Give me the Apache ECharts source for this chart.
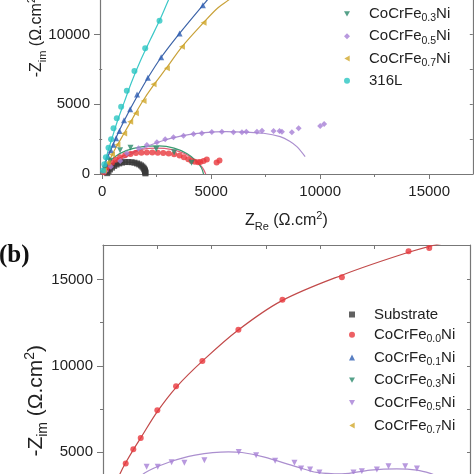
<!DOCTYPE html>
<html><head><meta charset="utf-8">
<script src="https://cdn.jsdelivr.net/npm/echarts@6/dist/echarts.min.js"></script>
<style>html,body{margin:0;padding:0;background:#fff}#c{width:474px;height:474px}</style>
</head><body><div id="c"></div>
<script>
// ---------- panel (a) data : [Z_Re, -Z_im] ----------
const aSubstratePts = [[230,60],[290,200],[360,330],[450,460],[550,580],[660,680],[780,760],[910,820],[1050,855],[1200,862],[1350,845],[1480,810],[1600,755],[1700,690],[1780,615],[1840,535],[1890,450],[1925,370],[1950,290],[1965,215],[1975,150],[1980,95],[1985,45]];
const aSubstrateFit = [[200,0],[300,260],[500,540],[800,760],[1100,860],[1400,840],[1650,720],[1850,520],[1950,300],[1990,0]];
const aFe00Pts = [[80,120],[180,330],[300,560],[450,800],[620,1020],[820,1200],[1050,1340],[1300,1440],[1550,1500],[1800,1530],[2050,1540],[2300,1535],[2550,1520],[2800,1500],[3050,1470],[3300,1410],[3550,1320],[3750,1200],[3950,1060],[4100,930],[4250,870],[4400,850],[4500,860],[4650,930],[4800,1040],[5250,820],[5380,960]];
const aFe00Fit = [[0,0],[300,550],[700,1050],[1200,1480],[1800,1760],[2500,1850],[3200,1750],[3800,1450],[4300,950],[4600,450],[4750,0]];
const aFe01Pts = [[60,350],[150,750],[270,1250],[400,1700],[520,2090],[640,2570],[795,3090],[1000,3850],[1285,4650],[1600,5700],[2096,6900],[2707,8370],[3550,10080],[4620,12100]];
const aFe01Fit = [[0,0],[150,800],[400,1750],[750,3000],[1150,4250],[1600,5550],[2100,6900],[2700,8350],[3550,10080],[4620,12100],[5500,13700],[6300,15000],[7300,16600],[7700,17200]];
const aFe03Pts = [[120,380],[350,950],[820,1700],[1300,1880],[2480,1790],[3300,1560],[4100,800]];
const aFe03Fit = [[0,0],[250,700],[600,1250],[1100,1680],[1800,1950],[2600,2010],[3300,1850],[3900,1450],[4300,950],[4550,450],[4650,0]];
const aFe05Pts = [[150,200],[400,520],[825,935],[1130,1480],[1666,1840],[2050,2080],[2510,2270],[2890,2490],[3270,2630],[3730,2750],[4190,2870],[4570,2920],[5030,3010],[5490,3035],[6020,3000],[6410,2990],[6610,3035],[7100,3035],[7330,3105],[7860,3083],[8135,3083],[8245,3035],[8700,2990],[9010,3277],[10000,3442],[10180,3585]];
const aFe05Fit = [[0,0],[400,550],[1000,1150],[1800,1800],[2700,2350],[3700,2750],[4700,2970],[5700,3040],[6600,3000],[7400,2920],[8165,2675],[8600,2350],[8930,1960],[9310,1240]];
const aFe07Pts = [[80,250],[250,800],[450,1400],[700,2100],[1010,2900],[1284,3750],[1546,4350],[1897,5234],[2356,6430],[2967,7580],[3658,9130],[4650,10850]];
const aFe07Fit = [[0,0],[300,900],[650,1950],[1000,2900],[1400,4000],[1850,5200],[2350,6350],[2950,7600],[3650,9100],[4650,10850],[5300,11900],[5900,12600],[6700,13800],[7600,15200],[8600,16700],[8800,17100]];
const a316LPts = [[40,250],[100,700],[170,1200],[290,1890],[410,2500],[520,3275],[670,3990],[870,4825],[1130,5970],[1480,7385],[1974,9010],[2630,10990]];
const a316LFit = [[0,0],[100,650],[250,1550],[450,2550],[700,3800],[1000,5100],[1350,6600],[1750,8100],[2200,9600],[2630,11000],[3050,12500],[3500,14000],[4000,15500],[4500,17000]];

// ---------- panel (b) data ----------
const bFe00Pts = [[1046,4347],[1396,5173],[1737,5826],[2502,7427],[3364,8814],[4576,10277],[6235,12092],[8263,13826],[11000,15132],[14070,16635],[15023,16831]];
const bFe00Fit = [[600,3200],[800,3800],[1050,4400],[1400,5150],[1750,5850],[2500,7350],[3400,8800],[4600,10300],[6200,12050],[8200,13750],[11000,15250],[14000,16550],[15600,17100]];
const bFe05Pts = [[2010,4150],[2520,4150],[3160,4420],[3747,4381],[4668,4537],[6250,5017],[7051,4826],[7926,4497],[8816,4381],[9124,4057],[9539,4000],[9968,3826],[11535,3826],[11920,3900],[12612,4000],[13147,4190],[13917,4190],[14456,4057]];
const bFe05Fit = [[1300,3000],[1935,3803],[3000,4400],[4240,4826],[5775,5017],[6400,4980],[7390,4728],[8925,4150],[9850,3826],[11000,3740],[12300,3960],[13530,4035],[14456,3960],[15070,3770],[15500,3550]];

// ---------- labels / ticks ----------
const aLegend = ['Substrate','CoCrFe0.0Ni','CoCrFe0.1Ni','CoCrFe0.3Ni','CoCrFe0.5Ni','CoCrFe0.7Ni','316L'];
const bLegend = ['Substrate','CoCrFe0.0Ni','CoCrFe0.1Ni','CoCrFe0.3Ni','CoCrFe0.5Ni','CoCrFe0.7Ni'];
const majorTicks = [0,5000,10000,15000];
const minorTicks = [2500,7500,12500,17500];
const allTicks = [2500,5000,7500,10000,12500,15000,17500];

const F = 'Liberation Sans, Arial, sans-serif';
const C = {sub:'#3a3a3a', fe00:'#e8383d', fe01:'#2f5fb3', fe03:'#2a8a6c', fe05:'#a67fd6', fe07:'#d1a72a', l316:'#2bc6c2'};
const SYM = {square:'rect', circle:'circle', up:'triangle', down:'path://M0,0L10,0L5,9Z', left:'path://M0,5L9,0L9,10Z', diamond:'diamond'};

const rich = {
  f:{fontSize:15, fontFamily:F, color:'#222', lineHeight:20, padding:[0,0,0,14]},
  t:{fontSize:15, fontFamily:F, color:'#222', lineHeight:20},
  s:{fontSize:10.5, fontFamily:F, color:'#222', lineHeight:20, verticalAlign:'bottom'}
};
function legendFmt(name){
  const n = name.slice(2);
  const m = n.match(/^CoCrFe(\d\.\d)Ni$/);
  return m ? '{f|CoCrFe}{s|' + m[1] + '}{t|Ni}' : '{f|' + n + '}';
}
function nameRich(size){
  return {
    n:{fontSize:size, fontFamily:F, color:'#222', lineHeight:size+6},
    s:{fontSize:Math.round(size*0.69), fontFamily:F, color:'#222', lineHeight:size+6, verticalAlign:'bottom'},
    p:{fontSize:Math.round(size*0.69), fontFamily:F, color:'#222', lineHeight:size+6, verticalAlign:'top'}
  };
}

const axisLineStyle = {show:true, onZero:false, lineStyle:{color:'#777', width:1.2}};
const lbl = (vals) => ({show:true, customValues:vals, fontSize:15, fontFamily:F, color:'#222', margin:10, formatter:(v) => String(v)});

function pts(name, data, sym, color, xi, yi){
  return {type:'scatter', name:name, data:data, symbol:sym, symbolSize:6, itemStyle:{color:color}, xAxisIndex:xi, yAxisIndex:yi, z:3};
}
function fit(name, data, color, xi, yi){
  return {type:'line', name:'fit-' + name, data:data, smooth:0.35, symbol:'none', showSymbol:false, lineStyle:{color:color, width:1.2}, xAxisIndex:xi, yAxisIndex:yi, z:2, silent:true};
}

const noLbl = {show:false};
const option = {
  animation:false,
  backgroundColor:'#fff',
  title:{text:'(b)', left:-1, top:243, padding:0, textStyle:{fontFamily:'Liberation Serif, Times New Roman, serif', fontSize:25, fontWeight:'bold', color:'#111'}},
  grid:[
    {left:100, top:-105, width:372.8, height:279, outerBoundsMode:'none'},
    {left:103, top:245, width:367, height:293.5, outerBoundsMode:'none'}
  ],
  xAxis:[
    {type:'value', gridIndex:0, position:'bottom', min:-100, max:17000, axisLine:axisLineStyle,
     axisTick:{show:true, customValues:majorTicks, length:5, lineStyle:{color:'#777'}}, axisLabel:lbl(majorTicks), splitLine:{show:false},
     name:'{n|Z}{s|Re}{n| (Ω.cm}{p|2}{n|)}', nameLocation:'middle', nameGap:36, nameMoveOverlap:false, nameTextStyle:{rich:nameRich(16)}},
    {type:'value', gridIndex:0, position:'bottom', min:-100, max:17000, axisLine:{show:false},
     axisTick:{show:true, customValues:minorTicks, length:3, lineStyle:{color:'#777'}}, axisLabel:noLbl, splitLine:{show:false}},
    {type:'value', gridIndex:0, position:'top', min:-100, max:17000, axisLine:axisLineStyle, axisTick:{show:false}, axisLabel:noLbl, splitLine:{show:false}},
    {type:'value', gridIndex:1, position:'bottom', min:0, max:16900, axisLine:axisLineStyle,
     axisTick:{show:true, customValues:majorTicks, length:5, lineStyle:{color:'#777'}}, axisLabel:lbl(majorTicks), splitLine:{show:false}},
    {type:'value', gridIndex:1, position:'top', min:0, max:16900, axisLine:axisLineStyle,
     axisTick:{show:true, inside:true, customValues:allTicks, length:4, lineStyle:{color:'#777'}}, axisLabel:noLbl, splitLine:{show:false}}
  ],
  yAxis:[
    {type:'value', gridIndex:0, position:'left', min:0, max:20000, axisLine:axisLineStyle,
     axisTick:{show:true, customValues:majorTicks, length:6, lineStyle:{color:'#777'}}, axisLabel:lbl(majorTicks), splitLine:{show:false},
     name:'{n|-Z}{s|im}{n| (Ω.cm}{p|2}{n|)}', nameLocation:'middle', nameGap:52, nameMoveOverlap:false, nameTextStyle:{rich:nameRich(16)}},
    {type:'value', gridIndex:0, position:'left', min:0, max:20000, axisLine:{show:false},
     axisTick:{show:true, customValues:minorTicks, length:3, lineStyle:{color:'#777'}}, axisLabel:noLbl, splitLine:{show:false}},
    {type:'value', gridIndex:0, position:'right', min:0, max:20000, axisLine:axisLineStyle,
     axisTick:{show:true, inside:true, customValues:allTicks, length:3, lineStyle:{color:'#777'}}, axisLabel:noLbl, splitLine:{show:false}},
    {type:'value', gridIndex:1, position:'left', min:0, max:17000, axisLine:axisLineStyle,
     axisTick:{show:true, customValues:majorTicks, length:6, lineStyle:{color:'#777'}}, axisLabel:lbl(majorTicks), splitLine:{show:false},
     name:'{n|-Z}{s|im}{n| (Ω.cm}{p|2}{n|)}', nameLocation:'middle', nameGap:53, nameMoveOverlap:false, nameTextStyle:{rich:nameRich(21), padding:[0,18,0,0]}},
    {type:'value', gridIndex:1, position:'left', min:0, max:17000, axisLine:{show:false},
     axisTick:{show:true, customValues:minorTicks, length:3, lineStyle:{color:'#777'}}, axisLabel:noLbl, splitLine:{show:false}},
    {type:'value', gridIndex:1, position:'right', min:0, max:17000, axisLine:axisLineStyle,
     axisTick:{show:true, inside:true, customValues:allTicks, length:3, lineStyle:{color:'#777'}}, axisLabel:noLbl, splitLine:{show:false}}
  ],
  legend:[
    {data:aLegend.map(n => 'a:' + n), orient:'vertical', left:344, top:-58, padding:0, itemWidth:6, itemHeight:6, itemGap:4.8,
     formatter:legendFmt, textStyle:{rich:rich}, selectedMode:false},
    {data:bLegend.map(n => 'b:' + n), orient:'vertical', left:349, top:307, padding:0, itemWidth:6, itemHeight:6, itemGap:5.2,
     formatter:legendFmt, textStyle:{rich:rich}, selectedMode:false}
  ],
  series:[
    fit('a-sub', aSubstrateFit, '#555', 0, 0),
    fit('a-00', aFe00Fit, '#e0607a', 0, 0),
    fit('a-01', aFe01Fit, '#3d64a8', 0, 0),
    fit('a-03', aFe03Fit, '#3a9a70', 0, 0),
    fit('a-05', aFe05Fit, '#ab8fcf', 0, 0),
    fit('a-07', aFe07Fit, '#c9a23a', 0, 0),
    fit('a-316', a316LFit, '#3cc8c8', 0, 0),
    pts('a:Substrate', aSubstratePts, SYM.square, C.sub, 0, 0),
    pts('a:CoCrFe0.0Ni', aFe00Pts, SYM.circle, C.fe00, 0, 0),
    pts('a:CoCrFe0.1Ni', aFe01Pts, SYM.up, C.fe01, 0, 0),
    pts('a:CoCrFe0.3Ni', aFe03Pts, SYM.down, C.fe03, 0, 0),
    pts('a:CoCrFe0.5Ni', aFe05Pts, SYM.diamond, C.fe05, 0, 0),
    pts('a:CoCrFe0.7Ni', aFe07Pts, SYM.left, C.fe07, 0, 0),
    pts('a:316L', a316LPts, SYM.circle, C.l316, 0, 0),
    fit('b-00', bFe00Fit, '#c24a4a', 3, 3),
    fit('b-05', bFe05Fit, '#ab8fcf', 3, 3),
    pts('b:Substrate', [], SYM.square, C.sub, 3, 3),
    pts('b:CoCrFe0.0Ni', bFe00Pts, SYM.circle, C.fe00, 3, 3),
    pts('b:CoCrFe0.1Ni', [], SYM.up, C.fe01, 3, 3),
    pts('b:CoCrFe0.3Ni', [], SYM.down, C.fe03, 3, 3),
    pts('b:CoCrFe0.5Ni', bFe05Pts, SYM.down, C.fe05, 3, 3),
    pts('b:CoCrFe0.7Ni', [], SYM.left, C.fe07, 3, 3)
  ]
};
const chart = echarts.init(document.getElementById('c'), null, {renderer:'canvas'});
chart.setOption(option);
</script></body></html>
